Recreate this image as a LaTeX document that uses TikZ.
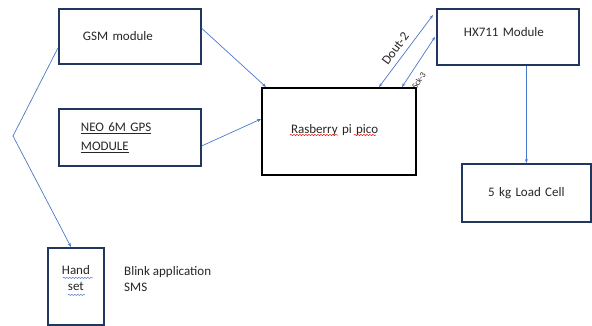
\documentclass[tikz,border=0pt]{standalone}
\usepackage{fontspec}
\setmainfont{Carlito}
\usetikzlibrary{arrows.meta,calc,decorations.pathmorphing}
\definecolor{boxnavy}{HTML}{22375F}
\definecolor{linkblue}{HTML}{4A78C8}

\begin{document}
\begin{tikzpicture}[x=1pt,y=-1pt,font=\fontsize{13}{16}\selectfont,
  every node/.style={text=black!85},
  box/.style={draw=boxnavy, line width=1.8pt, align=left, inner xsep=24pt, anchor=north west},
  link/.style={draw=linkblue, line width=0.7pt, -{Stealth[length=4pt,width=3pt]}},
  twoway/.style={link, {Stealth[length=4pt,width=3pt]}-{Stealth[length=4pt,width=3pt]}},
  squiggle/.style={line width=0.5pt, decorate, decoration={snake, amplitude=0.6pt, segment length=3pt}}]
\useasboundingbox (0,0) rectangle (592,325);
\node[box, text width=94, minimum height=55] (gsm) at (58,8) {\raisebox{-4pt}[0pt][0pt]{GSM module}};
\node[box, text width=98, minimum height=57, inner xsep=22pt] (neo) at (58,108) {\underline{NEO 6M GPS}\\[3pt]\underline{MODULE}};
\node[box, draw=black, line width=2pt, text width=96, minimum height=87, inner xsep=29pt] (pico) at (261,87) {\raisebox{-1.5pt}[0pt][0pt]{Rasberry pi pico}};
\node[box, text width=88, minimum height=56, inner xsep=27pt] (hx) at (436,8) {\raisebox{0.5pt}[0pt][0pt]{HX711 Module}};
\node[box, align=center, text width=80, minimum height=58, inner xsep=24.5pt] (load) at (461,163) {5 kg Load Cell};
\node[box, align=center, minimum width=56, minimum height=77, inner xsep=0pt] (hand) at (47,247) {\raisebox{-4.5pt}[0pt][0pt]{\begin{tabular}[b]{@{}c@{}}Hand\\set\end{tabular}}};
\node[anchor=west, align=left, inner sep=0pt] (blink) at (124,279) {Blink application\\SMS};
% spelling marks
\draw[squiggle, red] ([xshift=29pt,yshift=-3.5pt]pico.west) -- ++(48,0);
\draw[squiggle, red] ([xshift=93pt,yshift=-3.5pt]pico.west) -- ++(22,0);
\draw[squiggle, linkblue] ([xshift=-13pt,yshift=8.5pt]hand.center) -- ++(30,0);
\draw[squiggle, linkblue] ([xshift=-8pt,yshift=-8.5pt]hand.center) -- ++(17,0);
% connectors
\coordinate (bend) at (13,136);
\draw[link] ([yshift=-11.5pt]gsm.west) -- (bend) -- ([xshift=24pt]hand.north west);
\draw[link] ([yshift=8pt]gsm.east) -- ([xshift=5pt]pico.north west);
\draw[link] ([yshift=-8.5pt]neo.east) -- ([yshift=12.5pt]pico.west);
\draw[twoway] ([xshift=-38pt]pico.north east) -- node[sloped, above=2pt, pos=0.45] (dout) {Dout-2} ([xshift=-3pt,yshift=-7pt]hx.north west);
\draw[twoway] ([xshift=-15pt]pico.north east) -- node[sloped, below=4pt, pos=0.24, font=\fontsize{8.5}{10}\selectfont] (sck) {Sck-3} ([xshift=-1pt]hx.west);
\draw[link] (load.north |- hx.south) -- (load.north);
\end{tikzpicture}
\end{document}
